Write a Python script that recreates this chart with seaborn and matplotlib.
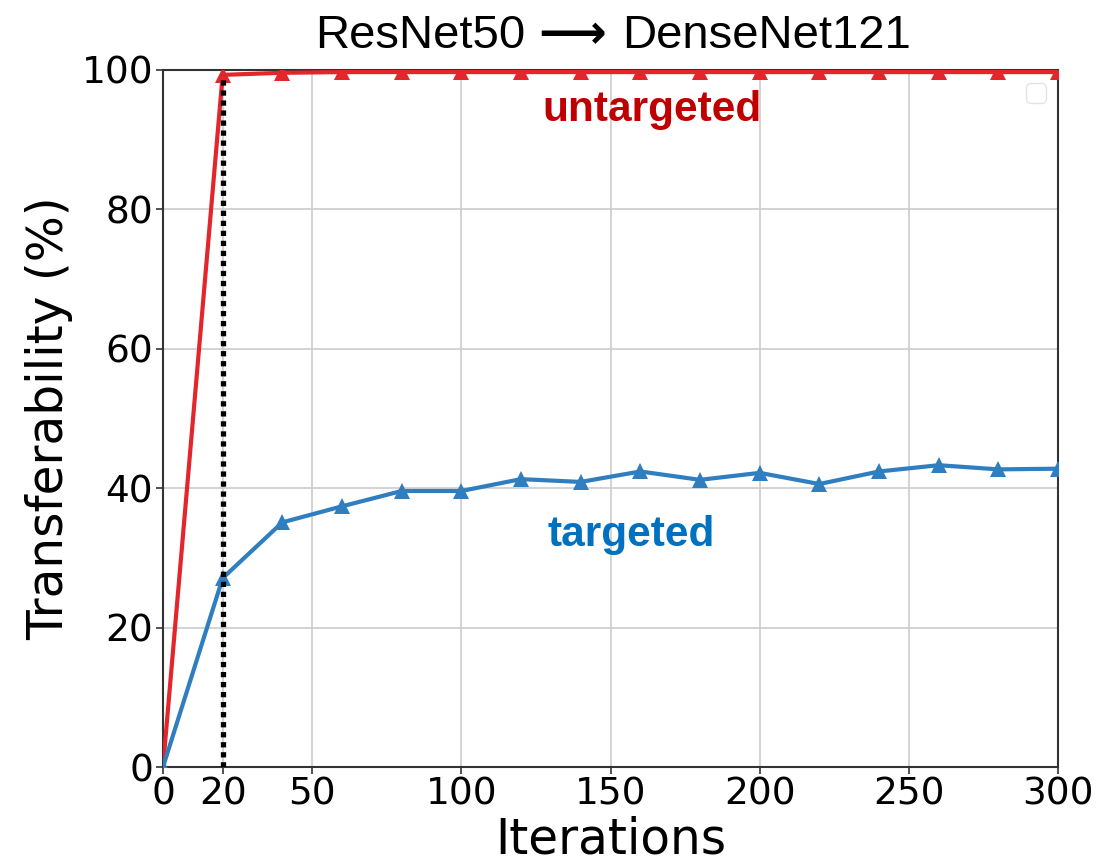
import matplotlib
matplotlib.use("Agg")
import matplotlib.pyplot as plt
import seaborn as sns
import pandas as pd

iterations = [0, 20, 40, 60, 80, 100, 120, 140, 160, 180, 200, 220, 240, 260, 280, 300]
untargeted = [0.0, 99.3, 99.6, 99.7, 99.7, 99.7, 99.7, 99.7, 99.7, 99.7, 99.7, 99.7, 99.7, 99.7, 99.7, 99.7]
targeted = [0.0, 27.1, 35.1, 37.4, 39.6, 39.6, 41.3, 40.9, 42.4, 41.2, 42.2, 40.6, 42.4, 43.3, 42.7, 42.8]
xticks = [0, 20, 50, 100, 150, 200, 250, 300]
yticks = [0, 20, 40, 60, 80, 100]

sns.set_style("whitegrid")
plt.rcParams['font.family'] = ['DejaVu Sans']
plt.rcParams.update({"text.color": "black", "axes.labelcolor": "black",
                     "xtick.color": "black", "ytick.color": "black"})

df = pd.DataFrame({
    "Iterations": iterations * 2,
    "value": untargeted + targeted,
    "series": ["untargeted"] * len(iterations) + ["targeted"] * len(iterations),
})

W, H = 1097, 865
fig = plt.figure(figsize=(W / 100, H / 100), dpi=100)
ax = fig.add_axes([163 / W, 1 - 767 / H, (1058 - 163) / W, (767 - 70) / H])

# dotted vertical at 20
ax.plot([20, 20], [0, untargeted[1]], color="black", linestyle=(0, (1, 0.9)), linewidth=3.8, zorder=4)

sns.lineplot(data=df, x="Iterations", y="value", hue="series",
             palette={"untargeted": "#E3252C", "targeted": "#2F7EC0"},
             marker="^", markersize=11, markeredgewidth=0, linewidth=3.0,
             ax=ax, legend=False, zorder=3)

ax.set_xlim(0, 300)
ax.set_ylim(0, 100)
ax.set_xticks(xticks)
ax.set_yticks(yticks)
ax.tick_params(axis="both", labelsize=27, length=5, width=1.2, color="#333333", direction="out",
               bottom=True, left=True, pad=2)
ax.grid(True, color="#CCCCCC", linewidth=1.2)
for s in ax.spines.values():
    s.set_color("#333333")
    s.set_linewidth(1.5)

ax.set_xlabel("Iterations", fontsize=35, labelpad=2)
ax.set_ylabel("Transferability (%)", fontsize=35, labelpad=6)

# title in three pieces (bold arrow)
tf = ["Liberation Sans", "DejaVu Sans"]
ty = 1 - 48 / H
fig.text(525 / W, ty, "ResNet50", fontsize=34, family=tf, ha="right", va="baseline")
fig.text(572 / W, ty, "\u27F6", fontsize=34, family=["DejaVu Sans"], fontweight="bold",
         ha="center", va="baseline")
fig.text(622 / W, ty, "DenseNet121", fontsize=34, family=tf, ha="left", va="baseline")

ax.text(164, 94.3, "untargeted", color="#C00000", fontsize=30.5, fontweight="bold",
        family=tf, ha="center", va="center")
ax.text(157, 33.3, "targeted", color="#0070C0", fontsize=30.5, fontweight="bold",
        family=tf, ha="center", va="center")

leg = ax.legend(handles=[], labels=[], loc="upper right", frameon=True, fontsize=18)
leg.get_frame().set_edgecolor("#DDDDDD")

fig.savefig("out.png", dpi=100)
